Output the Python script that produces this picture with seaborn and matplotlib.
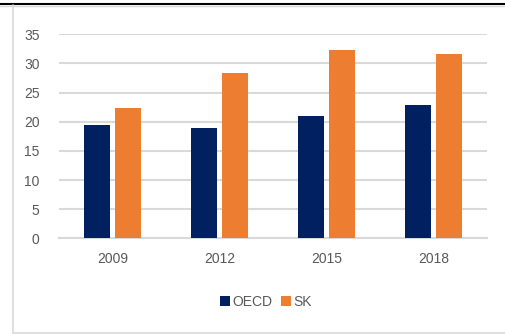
import matplotlib
matplotlib.use("Agg")
import matplotlib.pyplot as plt
from matplotlib.lines import Line2D
import seaborn as sns
import pandas as pd

years = ["2009", "2012", "2015", "2018"]
oecd = [19.5, 19.0, 21.0, 22.8]
sk = [22.3, 28.4, 32.3, 31.6]
series = ["OECD", "SK"]
colors = ["#002060", "#ED7D31"]

df = pd.DataFrame({
    "year": years * 2,
    "value": oecd + sk,
    "series": ["OECD"] * len(years) + ["SK"] * len(years),
})

sns.set_theme(style="white")
plt.rcParams["font.family"] = ["Liberation Sans", "DejaVu Sans"]

W, H = 506, 334
fig = plt.figure(figsize=(W / 100, H / 100), dpi=100)
ax = fig.add_axes([59 / W, 1 - 238.3 / H, 428 / W, 204 / H])

sns.barplot(data=df, x="year", y="value", hue="series", hue_order=series,
            palette=colors, width=0.57, gap=0.16, ax=ax, saturation=1,
            linewidth=0, zorder=3)

ax.set_ylim(0, 35)
ax.set_yticks(range(0, 36, 5))
ax.set_xlim(-0.5, len(years) - 0.5)
ax.set_xlabel("")
ax.set_ylabel("")
for s in ["top", "right", "left"]:
    ax.spines[s].set_visible(False)
ax.spines["bottom"].set_color("#d9d9d9")
ax.spines["bottom"].set_linewidth(1.5)
ax.yaxis.grid(True, color="#d9d9d9", linewidth=1.5, zorder=0)
ax.set_axisbelow(True)
ax.tick_params(axis="both", length=0, labelsize=10, labelcolor="#595959")
ax.tick_params(axis="y", pad=14)
ax.tick_params(axis="x", pad=10)

handles, labels = ax.get_legend_handles_labels()
if ax.legend_:
    ax.legend_.remove()
fig.legend(handles, labels, loc="center", bbox_to_anchor=(266 / W, 1 - 302 / H),
           ncol=2, frameon=False, fontsize=10, labelcolor="#595959",
           handlelength=0.75, handleheight=0.75, handletextpad=0.15,
           columnspacing=0.6)

# chart frame
fig.add_artist(Line2D([0, 1], [1 - 3.5 / H, 1 - 3.5 / H], color="black", linewidth=1.5))
fig.add_artist(Line2D([0, 1], [1 - 5.5 / H, 1 - 5.5 / H], color="#d9d9d9", linewidth=1.0))
fig.add_artist(Line2D([13.5 / W, 13.5 / W], [1 - 5 / H, 1 - 333 / H], color="#d9d9d9", linewidth=1.2))
fig.add_artist(Line2D([13.5 / W, 1], [1 - 333 / H, 1 - 333 / H], color="#d9d9d9", linewidth=1.2))

fig.savefig("out.png", dpi=100)
